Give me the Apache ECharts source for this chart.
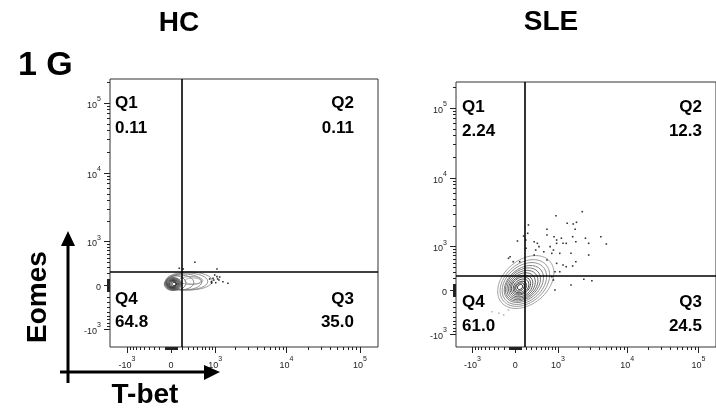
<!DOCTYPE html>
<html>
<head>
<meta charset="utf-8">
<script src="https://cdn.jsdelivr.net/npm/echarts@6/dist/echarts.min.js"></script>
<style>
  html, body { margin: 0; padding: 0; background: #fff; }
  #chart { width: 716px; height: 415px; }
</style>
</head>
<body>
<div id="chart"></div>
<script>
// biexponential-like display (asinh), positions are in "display decades"
var xCofactor = 535
var yCofactor = 500

var panelTitles = ['HC', 'SLE']
var quadrantNames = ['Q1', 'Q2', 'Q3', 'Q4']
var hcQuadrants = ['0.11', '0.11', '35.0', '64.8']
var sleQuadrants = ['2.24', '12.3', '24.5', '61.0']

// tick labels (real fluorescence values)
var majorTicks = [-1000, 0, 1000, 10000, 100000]
var majorTickBase = ['-10', '0', '10', '10', '10']
var majorTickExp = ['3', '', '3', '4', '5']

// axis ranges and gates, display units [T-bet, Eomes]
var hcXRange = [-0.831, 2.82]
var hcYRange = [-0.886, 2.943]
var sleXRange = [-0.831, 2.82]
var sleYRange = [-0.814, 2.971]
var hcGate = [0.136, 0.186]
var sleGate = [0.136, 0.2]

// contour levels: [cx, cy, rx, ry, tilt deg], outer -> inner
var hcContours = [
  [0.298, 0.057, 0.108, 0.043, 0],
  [0.271, 0.064, 0.162, 0.057, 0],
  [0.244, 0.057, 0.318, 0.129, 0],
  [0.217, 0.05, 0.284, 0.121, 0],
  [0.176, 0.043, 0.243, 0.114, 0],
  [0.122, 0.036, 0.189, 0.107, 0],
  [0.068, 0.029, 0.135, 0.1, 0],
  [0.027, 0.014, 0.118, 0.093, 0],
  [0.027, 0.014, 0.108, 0.086, 0],
  [0.027, 0.014, 0.098, 0.078, 0],
  [0.027, 0.014, 0.088, 0.071, 0],
  [0.027, 0.014, 0.078, 0.064, 0],
  [0.027, 0.014, 0.068, 0.057, 0],
  [0.027, 0.014, 0.057, 0.05, 0],
  [0.027, 0.014, 0.047, 0.043, 0],
  [0.034, 0.014, 0.037, 0.033, 0],
  [0.041, 0.014, 0.027, 0.023, 0]
]
var sleContours = [
  [0.149, 0.114, 0.446, 0.314, 40],
  [0.136, 0.1, 0.392, 0.279, 40],
  [0.129, 0.093, 0.351, 0.25, 40],
  [0.122, 0.086, 0.311, 0.221, 40],
  [0.109, 0.079, 0.277, 0.2, 40],
  [0.102, 0.071, 0.243, 0.179, 40],
  [0.095, 0.064, 0.209, 0.157, 40],
  [0.088, 0.057, 0.176, 0.136, 40],
  [0.082, 0.057, 0.149, 0.114, 40],
  [0.082, 0.05, 0.122, 0.093, 40],
  [0.075, 0.043, 0.095, 0.071, 40],
  [0.068, 0.043, 0.068, 0.05, 40],
  [0.068, 0.043, 0.041, 0.031, 40]
]

// outlier events outside the contours
var hcDots = [
  [0.325, 0.324], [0.113, 0.239], [0.167, 0.229], [0.626, 0.229], [0.595, 0.143],
  [0.626, 0.119], [0.572, 0.096], [0.653, 0.071], [0.707, 0.047], [0.775, 0.024],
  [0.55, 0.047], [0.609, 0.033], [0.582, 0.071], [0.636, 0.086], [0.554, 0.029],
  [0.663, 0.114], [0.527, 0.086]
]
var sleDots = [
  [0.572, 1.061], [0.942, 1.119], [0.73, 0.953], [0.815, 0.943], [0.861, 0.967],
  [0.186, 0.929], [0.446, 0.867], [0.842, 0.867], [0.118, 0.771], [0.267, 0.69],
  [0.311, 0.667], [0.446, 0.786], [0.545, 0.761], [0.649, 0.739], [0.672, 0.667],
  [0.582, 0.667], [0.717, 0.667], [0.852, 0.69], [0.987, 0.739], [1.032, 0.667],
  [1.203, 0.761], [1.28, 0.657], [0.032, 0.7], [0.288, 0.571], [0.402, 0.547],
  [0.514, 0.524], [0.267, 0.5], [0.626, 0.524], [0.784, 0.524], [1.032, 0.5],
  [-0.071, 0.476], [0.064, 0.404], [0.446, 0.429], [0.582, 0.381], [0.672, 0.357],
  [0.717, 0.333], [0.807, 0.343], [0.852, 0.404], [0.559, 0.261], [0.626, 0.261],
  [0.514, 0.19], [0.964, 0.153], [1.077, 0.133], [0.784, 0.071], [0.537, 0.143],
  [0.559, 0], [0.149, 0.714], [-0.094, 0.453], [-0.027, 0.404], [0.176, 0.81],
  [0.153, 0.596], [0.334, 0.619], [0.491, 0.619], [0.582, 0.714], [0.537, 0.571],
  [0.807, 0.761]
]
var sleFaintDots = [[-0.229, -0.333], [-0.324, -0.31], [-0.162, -0.357], [-0.094, -0.286]]

var FONT = '"Liberation Sans", Arial, sans-serif'

function tx(v) { return Math.asinh(v / xCofactor) / Math.LN10 }
function ty(v) { return Math.asinh(v / yCofactor) / Math.LN10 }

// minor ticks: linear region around 0 then log decades
var minorTicks = []
;[10, 100].forEach(function(d) {
  for (var k = 1; k < 10; k++) minorTicks.push(k * d, -k * d)
})
;[1000, 10000, 100000].forEach(function(d) {
  for (var k = 2; k < 10; k++) minorTicks.push(k * d)
})
minorTicks.push(-2000)

function within(vals, range) {
  return vals.filter(function(v) { return v >= range[0] && v <= range[1] })
}

var rich = {
  b: { fontSize: 9, fontFamily: FONT, color: '#222', lineHeight: 14, verticalAlign: 'bottom' },
  s: { fontSize: 7, fontFamily: FONT, color: '#222', lineHeight: 7, verticalAlign: 'top' }
}

function makeFormatter(tf) {
  return function(val) {
    for (var i = 0; i < majorTicks.length; i++) {
      if (Math.abs(tf(majorTicks[i]) - val) < 1e-6) {
        var e = majorTickExp[i]
        return '{b|' + majorTickBase[i] + '}' + (e ? '{s|' + e + '}' : '')
      }
    }
    return ''
  }
}

function makeAxes(dim, grid, range, tf) {
  var major = within(majorTicks.map(tf), range)
  var minor = within(minorTicks.map(tf), range)
  var pos = dim === 'x' ? 'bottom' : 'left'
  return [{
    gridIndex: grid, type: 'value', position: pos, min: range[0], max: range[1],
    axisLine: { show: false, onZero: false }, splitLine: { show: false },
    axisTick: { show: true, customValues: major, length: 6, lineStyle: { color: '#222', width: 1 } },
    axisLabel: { show: true, customValues: major, margin: dim === 'x' ? 9 : 9, formatter: makeFormatter(tf), rich: rich }
  }, {
    gridIndex: grid, type: 'value', position: pos, min: range[0], max: range[1],
    axisLine: { show: false, onZero: false }, splitLine: { show: false },
    axisLabel: { show: false },
    axisTick: { show: true, customValues: minor, length: 3, lineStyle: { color: '#222', width: 1 } }
  }]
}

function contourSeries(axisIdx, data) {
  var n = data.length
  return {
    type: 'custom', xAxisIndex: axisIdx, yAxisIndex: axisIdx, silent: true, clip: true,
    data: data,
    renderItem: function(params, api) {
      var c = api.coord([api.value(0), api.value(1)])
      var s = api.size([api.value(2), api.value(3)])
      var t = params.dataIndex / (n - 1)
      var g = Math.round(160 - 125 * t)
      return {
        type: 'ellipse',
        x: c[0], y: c[1],
        rotation: api.value(4) * Math.PI / 180,
        shape: { cx: 0, cy: 0, rx: s[0], ry: s[1] },
        style: { fill: 'none', stroke: 'rgb(' + g + ',' + g + ',' + g + ')', lineWidth: 0.9 }
      }
    }
  }
}

function dotSeries(axisIdx, data, color, gate) {
  var s = {
    type: 'scatter', xAxisIndex: axisIdx, yAxisIndex: axisIdx, silent: true,
    symbol: 'rect', symbolSize: 1.6, itemStyle: { color: color }, data: data
  }
  if (gate) {
    s.markLine = {
      silent: true, symbol: ['none', 'none'], label: { show: false },
      lineStyle: { color: '#000', width: 1.6, type: 'solid' },
      data: [{ xAxis: gate[0] }, { yAxis: gate[1] }]
    }
  }
  return s
}

function txt(text, x, y, size, align, extra) {
  var el = {
    type: 'text', x: x, y: y, silent: true,
    style: {
      text: text, fill: '#000', font: 'bold ' + size + 'px ' + FONT,
      align: align, textAlign: align, verticalAlign: 'middle', textVerticalAlign: 'middle'
    }
  }
  if (extra) Object.assign(el, extra)
  return el
}

function quadrantLabels(vals, left, right, topY, botY) {
  return [
    txt(quadrantNames[0], left, topY, 17, 'left'),
    txt(vals[0], left, topY + 24.5, 17, 'left'),
    txt(quadrantNames[1], right, topY, 17, 'right'),
    txt(vals[1], right, topY + 24.5, 17, 'right'),
    txt(quadrantNames[2], right, botY, 17, 'right'),
    txt(vals[2], right, botY + 23.5, 17, 'right'),
    txt(quadrantNames[3], left, botY, 17, 'left'),
    txt(vals[3], left, botY + 23.5, 17, 'left')
  ]
}

var chart = echarts.init(document.getElementById('chart'))

chart.setOption({
  animation: false,
  backgroundColor: '#fff',
  grid: [
    { left: 110, top: 79, width: 268, height: 268, show: true, borderColor: '#333', borderWidth: 1 },
    { left: 456, top: 82, width: 268, height: 265, show: true, borderColor: '#333', borderWidth: 1 }
  ],
  xAxis: makeAxes('x', 0, hcXRange, tx).concat(makeAxes('x', 1, sleXRange, tx)),
  yAxis: makeAxes('y', 0, hcYRange, ty).concat(makeAxes('y', 1, sleYRange, ty)),
  series: [
    contourSeries(0, hcContours),
    dotSeries(0, hcDots, '#000', hcGate),
    contourSeries(2, sleContours),
    dotSeries(2, sleDots, '#000', sleGate),
    dotSeries(2, sleFaintDots, '#aaa')
  ],
  graphic: [
    txt(panelTitles[0], 179, 23, 28, 'center'),
    txt(panelTitles[1], 551, 22, 28, 'center'),
    txt('1 G', 18, 66, 34, 'left'),
    txt('Eomes', 38, 297, 28, 'center', { rotation: Math.PI / 2 }),
    txt('T-bet', 145, 395, 28, 'center'),
    { type: 'line', silent: true, shape: { x1: 68, y1: 383, x2: 68, y2: 240 }, style: { stroke: '#000', lineWidth: 3 } },
    { type: 'polygon', silent: true, shape: { points: [[68, 231], [61, 246], [75, 246]] }, style: { fill: '#000' } },
    { type: 'line', silent: true, shape: { x1: 60, y1: 372, x2: 210, y2: 372 }, style: { stroke: '#000', lineWidth: 3 } },
    { type: 'polygon', silent: true, shape: { points: [[220, 372], [204, 365], [204, 380]] }, style: { fill: '#000' } }
  ].concat(quadrantLabels(hcQuadrants, 115, 354, 103.5, 299))
   .concat(quadrantLabels(sleQuadrants, 462, 702, 107, 302.7))
})
</script>
</body>
</html>
